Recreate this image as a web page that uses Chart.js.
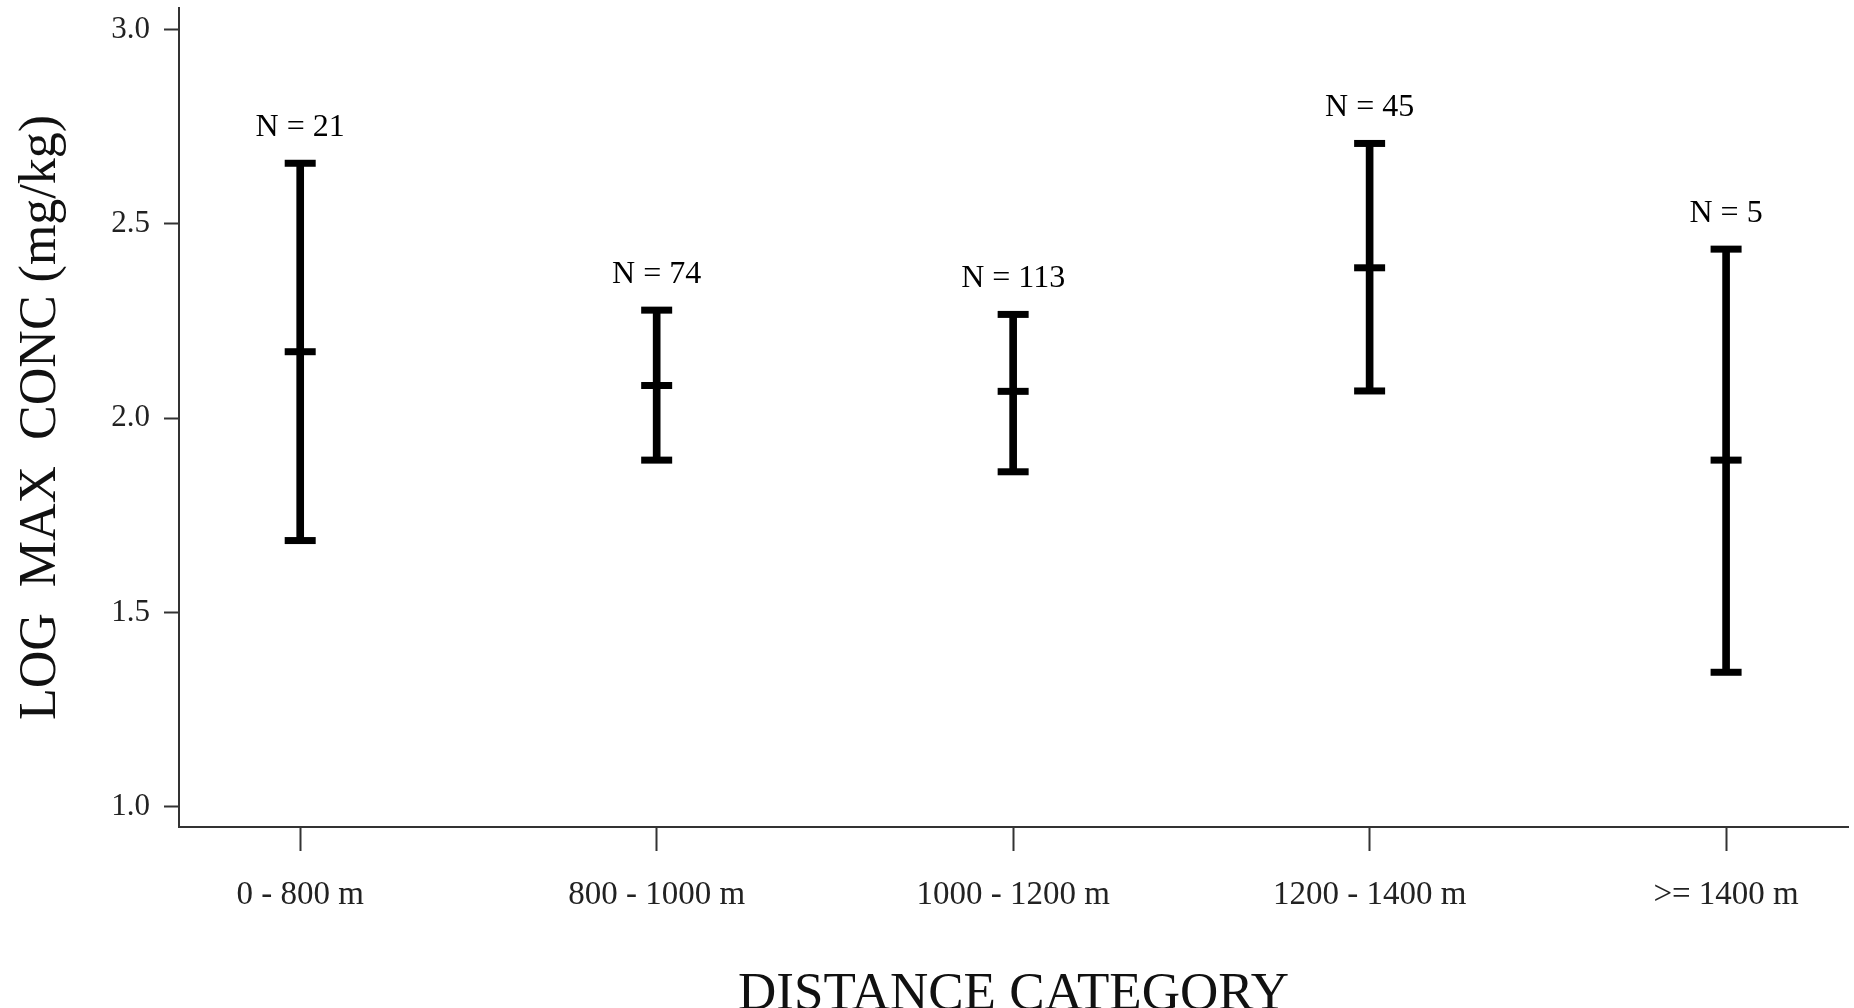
<!DOCTYPE html>
<html>
<head>
<meta charset="utf-8">
<script src="https://cdn.jsdelivr.net/npm/chart.js@4.4.1/dist/chart.umd.min.js"></script>
<style>
html,body{margin:0;padding:0;background:#fff;}
#wrap{width:1854px;height:1008px;position:relative;}
</style>
</head>
<body>
<div id="wrap"><canvas id="chart"></canvas></div>
<script>
var categories = ['0 - 800 m', '800 - 1000 m', '1000 - 1200 m', '1200 - 1400 m', '>= 1400 m'];
var nCounts = [21, 74, 113, 45, 5];
var upper = [2.656, 2.278, 2.267, 2.707, 2.435];
var means = [2.171, 2.084, 2.069, 2.387, 1.892];
var lower = [1.685, 1.892, 1.862, 2.070, 1.346];
var yTicks = [1.0, 1.5, 2.0, 2.5, 3.0];

var serif = '"Liberation Serif", "Times New Roman", serif';

// N = .. labels above each bar
var nLabels = {
    id: 'nLabels',
    afterDatasetsDraw: function(chart) {
        var ctx = chart.ctx;
        var xs = chart.scales.x, ys = chart.scales.y;
        ctx.save();
        ctx.font = '32px ' + serif;
        ctx.fillStyle = '#000';
        ctx.textAlign = 'center';
        ctx.textBaseline = 'middle';
        nCounts.forEach(function(n, i) {
            ctx.fillText('N = ' + n, xs.getPixelForValue(i), ys.getPixelForValue(upper[i]) - 36);
        });
        ctx.restore();
    }
};

function pts(arr) {
    return arr.map(function(v, i) { return {x: i, y: v}; });
}

var capStyle = {
    type: 'scatter',
    pointStyle: 'line',
    pointRadius: 15.5,
    pointHoverRadius: 15.5,
    borderWidth: 7,
    borderColor: '#000',
    backgroundColor: '#000',
    showLine: false,
    clip: false
};

new Chart(document.getElementById('chart'), {
    type: 'bar',
    data: {
        datasets: [
            {
                type: 'bar',
                data: categories.map(function(c, i) { return {x: i, y: [lower[i], upper[i]]}; }),
                backgroundColor: '#000',
                borderWidth: 0,
                barThickness: 7
            },
            Object.assign({data: pts(upper)}, capStyle),
            Object.assign({data: pts(means)}, capStyle),
            Object.assign({data: pts(lower)}, capStyle)
        ]
    },
    options: {
        responsive: true,
        maintainAspectRatio: false,
        animation: false,
        layout: {autoPadding: false, padding: {top: 8, right: 6, left: 0, bottom: 0}},
        plugins: {legend: {display: false}, tooltip: {enabled: false}},
        scales: {
            x: {
                type: 'linear',
                offset: false,
                min: -0.34,
                max: 4.342,
                afterBuildTicks: function(scale) {
                    scale.ticks = categories.map(function(c, i) { return {value: i}; });
                },
                afterFit: function(scale) {
                    scale.height = 181;
                    scale.paddingLeft = 0; scale.paddingRight = 0;
                },
                ticks: {
                    callback: function(v) { return categories[v]; },
                    font: {family: serif, size: 33},
                    color: '#222',
                    padding: 25,
                    maxRotation: 0,
                    autoSkip: false
                },
                grid: {offset: false, drawOnChartArea: false, drawTicks: true, tickLength: 24, color: '#333', tickWidth: 2},
                border: {display: true, color: '#333', width: 2},
                title: {
                    display: true,
                    text: 'DISTANCE CATEGORY',
                    font: {family: serif, size: 53, lineHeight: 1},
                    color: '#111',
                    padding: {top: 0, bottom: -14}
                }
            },
            y: {
                min: 0.9478,
                max: 3.0556,
                afterBuildTicks: function(scale) {
                    scale.ticks = yTicks.map(function(v) { return {value: v}; });
                },
                afterFit: function(scale) {
                    scale.width = 179;
                    scale.paddingTop = 0; scale.paddingBottom = 0;
                },
                ticks: {
                    callback: function(v) { return v.toFixed(1); },
                    font: {family: serif, size: 31},
                    color: '#222',
                    padding: 14
                },
                grid: {drawOnChartArea: false, drawTicks: true, tickLength: 15, color: '#333', tickWidth: 2},
                border: {display: true, color: '#333', width: 2},
                title: {
                    display: true,
                    text: 'LOG  MAX  CONC (mg/kg)',
                    font: {family: serif, size: 52, lineHeight: 1},
                    color: '#111',
                    padding: {top: 15, bottom: 0}
                }
            }
        }
    },
    plugins: [nLabels]
});
</script>
</body>
</html>
